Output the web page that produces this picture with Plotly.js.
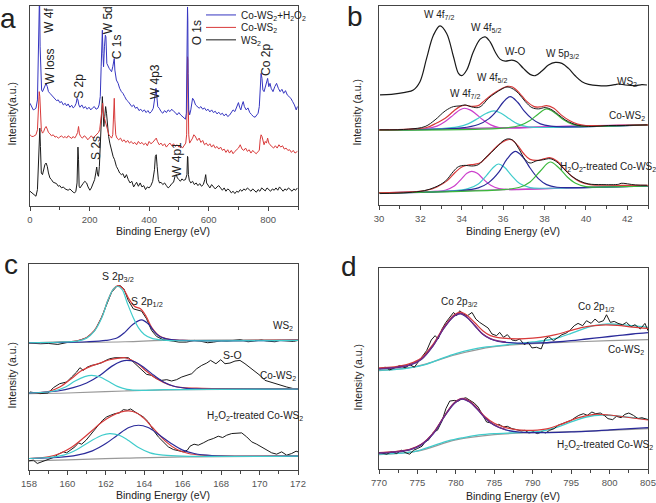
<!DOCTYPE html>
<html>
<head>
<meta charset="utf-8">
<script src="https://cdn.plot.ly/plotly-3.0.1.min.js"></script>
<style>
  html, body { margin: 0; padding: 0; background: #fff; }
  #fig { width: 656px; height: 503px; }
</style>
</head>
<body>
<div id="fig"></div>
<script>
// (a) survey spectra, [binding energy, intensity a.u.]
const surveyWS2 = [[0,45],[6,40],[11,35],[16,32],[20,30],[25,50],[28,120],[31,225],[33,235],[35,180],[38,100],[42,95],[46,110],[50,125],[54,130],[58,120],[62,100],[67,85],[72,80],[78,72],[84,70],[89,68],[95,60],[100,62],[106,55],[112,58],[118,52],[123,50],[128,48],[134,52],[140,46],[145,42],[150,40],[154,45],[158,70],[161,178],[163,140],[165,60],[168,55],[172,62],[178,68],[184,75],[190,70],[195,58],[201,48],[206,55],[212,68],[217,80],[221,100],[224,118],[227,95],[230,90],[233,120],[236,190],[239,260],[241,320],[243,330],[245,290],[248,240],[251,270],[254,300],[257,280],[260,240],[264,210],[268,190],[273,170],[279,150],[284,140],[290,120],[296,110],[301,100],[307,95],[312,98],[318,85],[324,95],[330,80],[336,70],[342,75],[348,58],[353,65],[358,72],[364,60],[370,70],[376,58],[382,62],[388,50],[394,58],[400,55],[406,62],[412,75],[418,110],[421,150],[424,155],[427,120],[431,80],[435,70],[440,72],[446,65],[452,70],[458,62],[464,55],[470,60],[476,68],[482,72],[487,90],[491,95],[495,85],[500,80],[505,75],[510,82],[516,78],[522,80],[527,95],[529,150],[530,148],[532,95],[535,78],[540,70],[546,75],[552,65],[558,70],[564,62],[570,68],[576,60],[582,65],[587,80],[590,95],[593,70],[598,62],[604,55],[610,65],[616,60],[622,52],[628,58],[634,62],[640,55],[646,48],[652,55],[658,45],[664,52],[670,48],[676,40],[682,45],[688,38],[694,45],[700,42],[706,50],[712,45],[718,52],[724,48],[730,55],[736,50],[742,45],[748,52],[754,48],[760,42],[766,50],[772,45],[778,55],[784,50],[790,46],[796,55],[802,50],[808,45],[814,52],[820,48],[826,55],[832,48],[838,58],[844,50],[850,45],[856,52],[862,48],[868,55],[874,50],[880,45],[886,52],[892,48],[898,55]];
const surveyCo = [[0,215],[6,210],[11,210],[16,212],[20,215],[25,230],[28,290],[31,345],[33,330],[35,260],[38,230],[42,220],[46,225],[50,235],[54,240],[58,232],[62,222],[67,218],[72,212],[78,215],[84,208],[89,210],[95,205],[100,208],[106,212],[112,206],[118,210],[123,205],[128,212],[134,208],[140,204],[145,210],[150,205],[155,212],[160,222],[163,240],[166,218],[170,210],[176,205],[182,212],[188,208],[194,200],[200,206],[206,212],[212,205],[218,210],[224,215],[230,222],[234,230],[238,260],[241,300],[244,310],[247,275],[250,265],[253,255],[256,240],[260,225],[265,215],[270,210],[274,205],[278,215],[281,290],[283,325],[285,260],[288,215],[292,205],[298,200],[304,205],[310,195],[316,200],[322,192],[328,198],[334,190],[340,195],[346,188],[352,192],[358,185],[364,195],[370,188],[376,192],[382,185],[388,190],[394,182],[400,195],[406,188],[412,192],[418,198],[424,205],[428,195],[434,185],[440,190],[446,182],[452,188],[458,178],[464,185],[470,190],[476,182],[482,188],[488,180],[494,185],[500,178],[506,182],[512,175],[518,185],[523,190],[526,215],[528,380],[529,450],[530,440],[531,350],[533,215],[536,190],[540,195],[546,205],[550,215],[554,212],[558,205],[562,198],[568,205],[574,192],[580,198],[586,185],[592,190],[598,182],[604,188],[610,178],[616,185],[622,175],[628,180],[634,172],[640,178],[646,168],[652,172],[658,162],[664,170],[670,160],[676,168],[682,158],[688,165],[694,170],[700,175],[706,185],[712,172],[718,168],[724,175],[730,165],[736,170],[742,160],[748,168],[754,162],[760,158],[766,165],[770,168],[773,200],[776,215],[779,210],[782,195],[786,185],[790,195],[794,190],[798,205],[802,190],[806,185],[812,180],[818,175],[824,182],[830,175],[836,185],[842,178],[848,182],[854,172],[860,175],[866,168],[872,170],[878,162],[884,168],[890,160],[898,165]];
const surveyH2O2 = [[0,310],[6,300],[11,290],[16,292],[20,295],[25,320],[28,450],[30,640],[32,640],[34,480],[36,400],[39,350],[42,345],[46,355],[50,365],[54,370],[58,360],[62,345],[67,340],[72,335],[78,330],[84,325],[89,318],[95,320],[100,312],[106,315],[112,305],[118,310],[123,302],[128,308],[134,298],[140,304],[145,296],[150,300],[155,310],[158,325],[161,320],[164,305],[168,298],[174,305],[180,295],[186,300],[192,292],[198,298],[204,290],[210,296],[216,300],[222,292],[228,295],[232,305],[236,330],[239,420],[241,520],[243,530],[245,460],[247,420],[250,480],[253,515],[255,510],[258,430],[262,420],[266,415],[270,410],[274,405],[278,420],[281,440],[283,445],[285,410],[290,380],[296,370],[301,355],[307,345],[312,340],[318,330],[324,320],[330,315],[336,308],[342,300],[348,305],[354,295],[360,298],[366,288],[372,292],[378,285],[384,290],[390,282],[396,288],[402,280],[408,285],[414,295],[418,320],[421,345],[423,355],[426,330],[429,300],[434,295],[440,285],[446,280],[452,288],[458,282],[464,290],[470,285],[476,292],[482,286],[488,282],[494,275],[500,282],[506,275],[512,270],[518,265],[522,262],[525,280],[527,450],[529,600],[530,560],[531,400],[533,290],[536,275],[540,290],[546,325],[550,320],[556,305],[562,300],[568,295],[574,300],[580,292],[586,296],[592,288],[598,292],[604,284],[610,290],[616,282],[622,286],[628,278],[634,283],[640,276],[646,280],[652,272],[658,278],[664,270],[670,274],[676,282],[682,290],[688,285],[694,300],[700,312],[704,298],[708,290],[712,305],[716,315],[720,300],[726,290],[732,296],[738,282],[744,276],[750,270],[756,268],[762,274],[766,280],[770,300],[773,350],[776,400],[779,385],[782,350],[786,345],[790,360],[794,375],[798,385],[802,360],[806,370],[810,355],[816,345],[822,360],[828,370],[834,355],[840,345],[846,352],[852,340],[858,348],[864,335],[870,330],[876,325],[882,315],[888,305],[894,290],[898,300]];

// (b) W 4f region
const w4fWS2 = [[30.05,332],[30.6,334],[31.26,340],[31.66,347],[31.98,372],[32.3,442],[32.63,512],[32.95,540],[33.27,517],[33.6,447],[33.84,397],[34.0,390],[34.24,407],[34.56,462],[34.89,500],[35.13,507],[35.37,492],[35.61,462],[35.85,440],[36.1,434],[36.42,437],[36.66,432],[36.98,412],[37.3,394],[37.55,390],[37.87,404],[38.19,422],[38.52,430],[38.84,427],[39.16,412],[39.48,390],[39.81,372],[40.13,364],[40.61,360],[41.1,360],[41.4,363],[41.58,365],[41.9,362],[42.39,360],[42.7,363],[42.95,362]];
const w4fCoRaw = [[30.05,227],[31.42,229],[32.23,237],[32.71,257],[33.2,284],[33.6,297],[33.92,299],[34.16,302],[34.48,296],[34.8,294],[34.97,300],[35.29,322],[35.61,337],[35.94,350],[36.18,356],[36.42,352],[36.74,337],[37.07,312],[37.39,294],[37.71,290],[38.03,294],[38.36,287],[38.68,272],[39.0,257],[39.32,247],[39.65,240],[40.29,237],[41.1,240],[41.9,240],[42.95,242]];
const w4fCoFit = [[30,227],[31.5,229],[32.3,234],[32.7,245],[33.2,262],[33.6,283],[33.9,297],[34.15,301],[34.45,298],[34.8,300],[35.1,315],[35.5,335],[35.9,350],[36.2,358],[36.45,356],[36.8,337],[37.1,315],[37.5,297],[37.8,296],[38.1,300],[38.45,292],[38.8,272],[39.2,255],[39.6,244],[40,240],[41,240],[43,242]];
const w4fCoP1 = [[30,226],[31.5,228],[32.3,231],[32.8,238],[33.2,252],[33.6,272],[33.9,287],[34.13,292],[34.4,287],[34.7,274],[35.0,258],[35.4,242],[35.8,234],[36.5,232],[38,236],[43,242]];
const w4fCoP2 = [[30,226],[33,231],[33.8,236],[34.3,245],[34.8,262],[35.2,277],[35.55,284],[35.9,277],[36.3,260],[36.7,245],[37.2,236],[38,234],[43,242]];
const w4fCoP3 = [[30,226],[34,233],[34.8,243],[35.3,260],[35.7,285],[36.0,310],[36.34,327],[36.7,310],[37.0,285],[37.4,260],[37.8,245],[38.3,238],[39,236],[43,242]];
const w4fCoP4 = [[30,226],[36,232],[36.8,240],[37.3,255],[37.7,275],[38.1,290],[38.5,278],[38.9,258],[39.3,245],[39.8,238],[40.5,238],[43,242]];
const w4fCoBase = [[30,226],[43,242]];
const w4fHRaw = [[30.05,35],[31.4,38],[32.2,44],[32.7,54],[33.2,72],[33.6,102],[33.84,116],[34.16,120],[34.48,118],[34.8,122],[35.13,142],[35.45,160],[35.77,180],[36.0,194],[36.26,200],[36.5,194],[36.74,172],[37.07,137],[37.3,127],[37.63,134],[37.95,137],[38.27,140],[38.6,130],[38.92,110],[39.32,87],[39.73,72],[40.13,64],[40.77,62],[41.58,63],[41.7,66],[42.39,61],[42.95,60]];
const w4fHFit = [[30,37],[31.5,40],[32.3,45],[32.8,55],[33.3,74],[33.7,100],[34.0,115],[34.3,121],[34.6,123],[34.9,128],[35.2,145],[35.5,165],[35.85,185],[36.15,196],[36.4,197],[36.7,180],[37.0,155],[37.3,138],[37.7,135],[38.0,140],[38.25,143],[38.6,133],[38.95,110],[39.3,88],[39.7,71],[40.2,62],[41,60],[43,60]];
const w4fHP1 = [[30,37],[32.5,41],[33.2,45],[33.6,56],[34.0,80],[34.25,96],[34.48,102],[34.75,96],[35.05,78],[35.4,60],[35.8,50],[36.5,47],[38,50],[43,58]];
const w4fHP2 = [[30,37],[33.5,43],[34.3,50],[34.8,64],[35.2,90],[35.5,112],[35.77,124],[36.05,115],[36.4,90],[36.8,65],[37.3,53],[38,51],[43,58]];
const w4fHP3 = [[30,37],[34,44],[34.8,52],[35.3,68],[35.8,100],[36.2,140],[36.58,162],[36.95,145],[37.3,112],[37.7,80],[38.1,62],[38.6,54],[39.5,53],[43,58]];
const w4fHP4 = [[30,37],[36,47],[36.8,54],[37.3,70],[37.8,103],[38.27,130],[38.7,112],[39.1,85],[39.5,66],[40,56],[41,55],[43,58]];
const w4fHBase = [[30,37],[43,58]];

// (c) S 2p region
const s2pWS2Raw = [[158,382],[158.6,380],[159,381],[159.5,378],[160,384],[160.5,388],[161,398],[161.43,420],[161.78,460],[162.04,500],[162.3,535],[162.56,552],[162.74,555],[162.94,545],[163.17,510],[163.43,485],[163.69,480],[163.86,478],[164.12,455],[164.38,420],[164.64,402],[164.99,392],[165.5,388],[165.8,385],[166.2,385],[166.6,390],[166.9,388],[167.3,383],[167.6,385],[168,389],[168.3,388],[168.7,391],[169.0,392],[169.4,386],[169.7,388],[170.1,391],[170.4,388],[170.8,386],[171.06,390],[171.4,388],[171.76,387],[172,390]];
const s2pWS2Fit = [[158,383],[159.5,385],[160.5,389],[161,399],[161.4,420],[161.8,462],[162.1,510],[162.4,545],[162.62,555],[162.9,546],[163.2,515],[163.5,492],[163.8,485],[164.1,462],[164.4,428],[164.8,403],[165.3,393],[166,390],[172,392]];
const s2pWS2P1 = [[158,383],[159.5,385],[160.5,388],[161.0,397],[161.4,418],[161.8,460],[162.1,510],[162.4,545],[162.6,553],[162.85,543],[163.1,505],[163.4,462],[163.7,428],[164.0,408],[164.4,396],[165,391],[166,389],[172,390]];
const s2pWS2P2 = [[158,383],[161,386],[162,390],[162.6,398],[163.0,415],[163.4,438],[163.86,452],[164.2,440],[164.5,418],[164.8,402],[165.3,393],[166,390],[172,390]];
const s2pWS2Base = [[158,383],[163,386],[165,390],[172,392]];
const s2pCoRaw = [[158.05,235],[158.57,230],[159,232],[159.27,248],[159.6,260],[159.96,265],[160.22,280],[160.48,295],[160.65,308],[160.83,300],[161.04,310],[161.26,315],[161.52,318],[161.78,323],[162.0,330],[162.2,335],[162.48,338],[162.74,338],[163.0,340],[163.17,338],[163.34,330],[163.6,315],[163.86,300],[164.12,288],[164.38,285],[164.64,275],[164.9,270],[165.17,272],[165.42,268],[165.68,272],[165.95,280],[166.2,285],[166.47,290],[166.73,305],[166.99,315],[167.25,322],[167.45,330],[167.73,320],[167.98,332],[168.2,320],[168.46,322],[168.72,328],[168.98,330],[169.24,320],[169.5,308],[169.76,295],[170.02,285],[170.28,270],[170.54,265],[170.8,260],[171.06,257],[171.41,250],[171.76,245],[172,244]];
const s2pCoFit = [[158,232],[159,236],[159.6,250],[160.2,275],[160.7,298],[161.2,312],[161.7,322],[162.2,332],[162.7,337],[163.0,338],[163.3,332],[163.7,318],[164.1,298],[164.5,280],[165,264],[165.5,253],[166,248],[167,246],[168,245],[172,245]];
const s2pCoP1 = [[158,232],[159.3,238],[159.9,250],[160.4,268],[160.9,281],[161.26,285],[161.7,280],[162.1,268],[162.6,252],[163.1,243],[163.8,240],[165,242],[172,244]];
const s2pCoP2 = [[158,232],[159.5,238],[160.3,248],[161,262],[161.7,285],[162.3,312],[162.8,327],[163.1,330],[163.5,326],[164,308],[164.5,285],[165,265],[165.5,253],[166.2,246],[167,244],[172,244]];
const s2pCoBase = [[158,230],[160,232],[163,238],[166,242],[172,244]];
const s2pHRaw = [[158,28],[158.23,30],[158.43,20],[158.66,25],[159,32],[159.27,38],[159.53,48],[159.79,55],[159.96,52],[160.17,62],[160.39,70],[160.57,82],[160.74,78],[160.97,90],[161.17,105],[161.38,120],[161.61,135],[161.83,150],[162.04,160],[162.25,165],[162.48,170],[162.7,172],[162.91,182],[163.12,180],[163.29,184],[163.52,175],[163.74,168],[163.95,160],[164.21,145],[164.47,120],[164.73,100],[164.99,85],[165.25,70],[165.51,62],[165.77,58],[166.03,55],[166.24,60],[166.38,72],[166.59,78],[166.81,75],[167.07,82],[167.33,90],[167.59,95],[167.85,102],[168.08,98],[168.29,105],[168.55,110],[168.81,112],[169.07,112],[169.33,100],[169.59,85],[169.85,78],[170.11,70],[170.37,62],[170.63,52],[170.89,48],[171.15,55],[171.41,45],[171.67,50],[171.9,57],[172,55]];
const s2pHFit = [[158,35],[159,40],[159.6,50],[160.2,68],[160.8,95],[161.3,120],[161.8,145],[162.3,163],[162.8,175],[163.2,178],[163.6,172],[164.0,155],[164.4,130],[164.8,105],[165.2,82],[165.7,62],[166.3,50],[167,45],[168,43],[172,42]];
const s2pHP1 = [[158,35],[159,38],[159.8,45],[160.5,62],[161.2,87],[161.8,105],[162.2,110],[162.7,105],[163.2,88],[163.7,68],[164.3,52],[165,45],[166,42],[172,42]];
const s2pHP2 = [[158,35],[159.5,38],[160.5,45],[161.3,58],[162,80],[162.6,105],[163.2,128],[163.7,135],[164.2,128],[164.8,105],[165.4,80],[166,60],[166.6,50],[167.5,44],[172,42]];
const s2pHBase = [[158,28],[160,31],[163,36],[166,40],[172,42]];

// (d) Co 2p region
const co2pCoRaw = [[770.1,302],[770.8,307],[771.4,299],[772.1,307],[772.7,312],[773.4,305],[774.0,315],[774.6,307],[775.1,322],[775.6,337],[776.2,357],[776.8,389],[777.3,402],[777.7,392],[778.2,422],[778.7,442],[779.2,457],[779.7,472],[780.1,462],[780.5,477],[781.0,467],[781.5,462],[782.1,472],[782.6,452],[783.1,442],[783.7,432],[784.2,425],[784.7,407],[785.3,402],[785.7,412],[786.2,397],[786.7,405],[787.3,389],[787.8,387],[788.3,392],[788.9,375],[789.4,382],[789.9,365],[790.5,367],[791.1,362],[791.6,392],[792.1,399],[792.7,387],[793.2,395],[793.8,405],[794.3,409],[794.8,417],[795.4,432],[795.9,439],[796.5,432],[797.0,447],[797.6,439],[798.1,452],[798.6,442],[799.2,447],[799.6,465],[800.1,442],[800.6,445],[801.1,439],[801.7,435],[802.2,442],[802.8,429],[803.3,435],[804.0,422],[804.6,439],[805,417]];
const co2pCoFit = [[770,305],[772,308],[774,318],[775.5,335],[777,375],[778.5,430],[779.8,465],[780.6,473],[781.5,463],[782.5,440],[783.5,417],[784.5,402],[785.5,396],[787,393],[789,393],[791,397],[793,405],[795,418],[797,429],[799,434],[801,433],[803,428],[805,424]];
const co2pCoBg = [[770,302],[772,305],[774,313],[775.5,330],[777,370],[778.5,426],[779.8,461],[780.6,468],[781.5,456],[782.5,431],[783.5,406],[784.5,392],[785.5,385],[787,381],[789,379],[791,380],[793,383],[795,387],[797,392],[799,397],[801,402],[803,407],[805,411]];
const co2pCoPeak = [[770,303],[772,306],[774,314],[775.5,331],[777,371],[778.5,427],[779.8,462],[780.6,469],[781.5,457],[782.5,432],[783.5,407],[784.5,393],[785.5,386],[786.5,383]];
const co2pCoSat = [[770,298],[772,300],[774,305],[776,315],[778,332],[780,348],[782,360],[784,368],[786,373],[788,378],[790,383],[792,389],[793.5,397],[795,409],[796.5,422],[798,432],[799.5,437],[801,436],[803,432],[805,427]];
const co2pCoBase = [[770,297],[775,310],[780,345],[785,369],[790,378],[795,383],[800,387],[805,390]];
const co2pHRaw = [[770.3,49],[771,45],[771.6,52],[772.3,47],[772.9,57],[773.5,49],[774,45],[774.5,57],[775,62],[775.6,69],[776,82],[776.5,89],[777.1,112],[777.6,117],[778.2,145],[778.7,182],[779.2,205],[779.8,207],[780.3,205],[780.8,212],[781.3,215],[781.8,207],[782.4,199],[782.9,187],[783.4,167],[784,142],[784.6,139],[785.1,132],[785.6,135],[786.2,127],[786.7,129],[787.3,122],[787.9,119],[788.5,115],[789,117],[789.5,109],[790.1,112],[790.6,107],[791.2,112],[791.7,109],[792.2,117],[792.8,122],[793.3,132],[793.9,137],[794.4,142],[795,147],[795.5,155],[796,162],[796.6,167],[797.1,162],[797.7,172],[798.2,167],[798.8,169],[799.3,162],[799.8,152],[800.4,149],[800.9,159],[801.5,155],[802,165],[802.5,169],[803.1,162],[803.7,152],[804.2,155],[805,149]];
const co2pHFit = [[770,50],[772,53],[774,60],[775.5,75],[777,108],[778.5,160],[779.8,200],[780.8,213],[781.8,205],[782.8,183],[783.8,158],[785,138],[786.5,125],[788,118],[790,117],[792,122],[794,138],[796,155],[798,165],[800,163],[802,157],[805,148]];
const co2pHBg = [[770,48],[772,51],[774,58],[775.5,73],[777,105],[778.5,158],[779.8,198],[780.8,211],[781.8,202],[782.8,180],[783.8,154],[785,132],[786.5,118],[788,112],[790,110],[792,110],[795,112],[800,118],[805,125]];
const co2pHPeak = [[770,49],[772,52],[774,59],[775.5,74],[777,106],[778.5,159],[779.8,199],[780.8,212],[781.8,203],[782.8,181],[783.8,155],[785,133],[786.5,119]];
const co2pHSat = [[770,45],[773,48],[775,55],[777,70],[779,85],[781,95],[783,103],[785,107],[788,110],[791,114],[793,125],[795,142],[797,157],[799,163],[801,160],[803,155],[805,150]];
const co2pHBase = [[770,44],[775,54],[780,88],[785,104],[790,110],[795,113],[800,117],[805,122]];

const FONT = 'Liberation Sans, Arial, sans-serif';
const C = {
  black: '#1a1a1a', red: '#d83a3a', blue: '#3535c0', magenta: '#cc40cc',
  cyan: '#40cccc', navy: '#2a2a9a', green: '#3cb83c', purple: '#a040b0',
  plum: '#7a2a80', gray: '#999999'
};

function line(pts, color, xa, ya, width, smooth, extra) {
  return Object.assign({
    type: 'scatter', mode: 'lines',
    x: pts.map(p => p[0]), y: pts.map(p => p[1]),
    xaxis: xa, yaxis: ya,
    line: {color: color, width: width || 1, shape: smooth ? 'spline' : 'linear'},
    showlegend: false, hoverinfo: 'skip'
  }, extra || {});
}

const traces = [
  line(surveyWS2, C.black, 'x', 'y', 1, false, {name: 'WS<sub>2</sub>', showlegend: true, legend: 'legend3'}),
  line(surveyCo, C.red, 'x', 'y', 1, false, {name: 'Co-WS<sub>2</sub>', showlegend: true, legend: 'legend2'}),
  line(surveyH2O2, C.blue, 'x', 'y', 1, false, {name: 'Co-WS<sub>2</sub>+H<sub>2</sub>O<sub>2</sub>', showlegend: true, legend: 'legend'}),

  line(w4fWS2, C.black, 'x2', 'y2', 1.2, true),
  line(w4fCoBase, C.purple, 'x2', 'y2', 1.2),
  line(w4fCoP1, C.magenta, 'x2', 'y2', 1.2, true),
  line(w4fCoP2, C.cyan, 'x2', 'y2', 1.2, true),
  line(w4fCoP3, C.navy, 'x2', 'y2', 1.2, true),
  line(w4fCoP4, C.green, 'x2', 'y2', 1.2, true),
  line(w4fCoFit, C.red, 'x2', 'y2', 1.2, true),
  line(w4fCoRaw, C.black, 'x2', 'y2', 1, true),
  line(w4fHBase, C.purple, 'x2', 'y2', 1.2),
  line(w4fHP1, C.magenta, 'x2', 'y2', 1.2, true),
  line(w4fHP2, C.cyan, 'x2', 'y2', 1.2, true),
  line(w4fHP3, C.navy, 'x2', 'y2', 1.2, true),
  line(w4fHP4, C.green, 'x2', 'y2', 1.2, true),
  line(w4fHFit, C.red, 'x2', 'y2', 1.2, true),
  line(w4fHRaw, C.black, 'x2', 'y2', 1, true),

  line(s2pWS2Base, C.gray, 'x3', 'y3', 1.2, true),
  line(s2pWS2Raw, C.black, 'x3', 'y3', 1, false),
  line(s2pWS2Fit, C.red, 'x3', 'y3', 1.2, true),
  line(s2pWS2P2, C.navy, 'x3', 'y3', 1.2, true),
  line(s2pWS2P1, C.cyan, 'x3', 'y3', 1.2, true),
  line(s2pCoBase, C.gray, 'x3', 'y3', 1.2, true),
  line(s2pCoRaw, C.black, 'x3', 'y3', 1, false),
  line(s2pCoFit, C.red, 'x3', 'y3', 1.2, true),
  line(s2pCoP2, C.navy, 'x3', 'y3', 1.2, true),
  line(s2pCoP1, C.cyan, 'x3', 'y3', 1.2, true),
  line(s2pHBase, C.gray, 'x3', 'y3', 1.2, true),
  line(s2pHRaw, C.black, 'x3', 'y3', 1, false),
  line(s2pHFit, C.red, 'x3', 'y3', 1.2, true),
  line(s2pHP2, C.navy, 'x3', 'y3', 1.2, true),
  line(s2pHP1, C.cyan, 'x3', 'y3', 1.2, true),

  line(co2pCoBase, C.gray, 'x4', 'y4', 1.2, true),
  line(co2pCoSat, C.cyan, 'x4', 'y4', 1.3, true),
  line(co2pCoRaw, C.black, 'x4', 'y4', 1, false),
  line(co2pCoFit, C.red, 'x4', 'y4', 1.2, true),
  line(co2pCoBg, C.navy, 'x4', 'y4', 1.3, true),
  line(co2pCoPeak, C.plum, 'x4', 'y4', 1.3, true),
  line(co2pHBase, C.gray, 'x4', 'y4', 1.2, true),
  line(co2pHSat, C.cyan, 'x4', 'y4', 1.3, true),
  line(co2pHRaw, C.black, 'x4', 'y4', 1, false),
  line(co2pHFit, C.red, 'x4', 'y4', 1.2, true),
  line(co2pHBg, C.navy, 'x4', 'y4', 1.3, true),
  line(co2pHPeak, C.plum, 'x4', 'y4', 1.3, true)
];

function xax(domain, range, tick0, dtick, minor, anchor) {
  return {
    domain: domain, range: range, anchor: anchor,
    tick0: tick0, dtick: dtick, ticks: 'outside', ticklen: 4, tickwidth: 1, tickcolor: '#444',
    minor: {dtick: minor, tick0: tick0, ticks: 'outside', ticklen: 2.5, tickcolor: '#444', showgrid: false},
    showline: true, linecolor: '#444', linewidth: 1, mirror: true,
    showgrid: false, zeroline: false,
    tickfont: {family: FONT, size: 9.5, color: '#555'}, fixedrange: true
  };
}
function yax(domain, range, anchor) {
  return {
    domain: domain, range: range, anchor: anchor,
    showticklabels: false, ticks: '', showline: true, linecolor: '#444', linewidth: 1, mirror: true,
    showgrid: false, zeroline: false, fixedrange: true
  };
}
function leg(rowY) {
  return {
    x: 201 / 656, y: 1 - rowY / 503, xanchor: 'left', yanchor: 'middle',
    bgcolor: 'rgba(0,0,0,0)', borderwidth: 0, itemwidth: 30, tracegroupgap: 0,
    font: {family: FONT, size: 10, color: '#222'}
  };
}

function lab(text, x, y, xref, yref, size, extra) {
  return Object.assign({
    text: text, x: x, y: y, xref: xref, yref: yref, showarrow: false,
    xanchor: 'center', yanchor: 'middle',
    font: {family: FONT, size: size, color: '#222'}
  }, extra || {});
}
const rot = {textangle: -90};
const xTitle = 'Binding Energy (eV)';

const annotations = [
  lab('a', 8 / 656, 1 - 17 / 503, 'paper', 'paper', 28),
  lab('b', 355 / 656, 1 - 15 / 503, 'paper', 'paper', 28),
  lab('c', 11 / 656, 1 - 264 / 503, 'paper', 'paper', 28),
  lab('d', 349 / 656, 1 - 266 / 503, 'paper', 'paper', 28),

  lab(xTitle, 163 / 656, 1 - 230 / 503, 'paper', 'paper', 10.5),
  lab(xTitle, 513 / 656, 1 - 230 / 503, 'paper', 'paper', 10.5),
  lab(xTitle, 163 / 656, 1 - 495 / 503, 'paper', 'paper', 10.5),
  lab(xTitle, 513 / 656, 1 - 496 / 503, 'paper', 'paper', 10.5),
  lab('Intensity(a.u.)', 12 / 656, 1 - 112 / 503, 'paper', 'paper', 10.5, rot),
  lab('Intensity (a.u.)', 357 / 656, 1 - 111 / 503, 'paper', 'paper', 10.5, rot),
  lab('Intensity (a.u.)', 12 / 656, 1 - 375 / 503, 'paper', 'paper', 10.5, rot),
  lab('Intensity (a.u.)', 358 / 656, 1 - 377 / 503, 'paper', 'paper', 10.5, rot),

  lab('W 4f', 66, 560, 'x', 'y', 12, rot),
  lab('W loss', 66, 420, 'x', 'y', 12, rot),
  lab('S 2p', 165, 360, 'x', 'y', 12, rot),
  lab('S 2s', 221, 175, 'x', 'y', 12, rot),
  lab('W 5d', 262, 560, 'x', 'y', 12, rot),
  lab('C 1s', 290, 480, 'x', 'y', 12, rot),
  lab('W 4p3', 418, 375, 'x', 'y', 12, rot),
  lab('W 4p1', 491, 140, 'x', 'y', 12, rot),
  lab('O 1s', 560, 523, 'x', 'y', 12, rot),
  lab('Co 2p', 792, 440, 'x', 'y', 12, rot),

  lab('W 4f<sub>7/2</sub>', 32.9, 572, 'x2', 'y2', 10),
  lab('W 4f<sub>5/2</sub>', 35.15, 534, 'x2', 'y2', 10),
  lab('W-O', 36.6, 462, 'x2', 'y2', 10),
  lab('W 5p<sub>3/2</sub>', 38.85, 454, 'x2', 'y2', 10),
  lab('WS<sub>2</sub>', 41.98, 372, 'x2', 'y2', 10),
  lab('W 4f<sub>5/2</sub>', 35.45, 382, 'x2', 'y2', 10),
  lab('W 4f<sub>7/2</sub>', 34.16, 334, 'x2', 'y2', 10),
  lab('Co-WS<sub>2</sub>', 41.98, 270, 'x2', 'y2', 10),
  lab('H<sub>2</sub>O<sub>2</sub>-treated Co-WS<sub>2</sub>', 41.05, 115, 'x2', 'y2', 10),

  lab('S 2p<sub>3/2</sub>', 162.65, 580, 'x3', 'y3', 10.5),
  lab('S 2p<sub>1/2</sub>', 164.15, 505, 'x3', 'y3', 10.5),
  lab('WS<sub>2</sub>', 171.2, 432, 'x3', 'y3', 10),
  lab('S-O', 168.6, 345, 'x3', 'y3', 10.5),
  lab('Co-WS<sub>2</sub>', 170.98, 282, 'x3', 'y3', 10),
  lab('H<sub>2</sub>O<sub>2</sub>-treated Co-WS<sub>2</sub>', 169.76, 163, 'x3', 'y3', 10),

  lab('Co 2p<sub>3/2</sub>', 780.5, 502, 'x4', 'y4', 10),
  lab('Co 2p<sub>1/2</sub>', 798.3, 489, 'x4', 'y4', 10),
  lab('Co-WS<sub>2</sub>', 802.2, 360, 'x4', 'y4', 10),
  lab('H<sub>2</sub>O<sub>2</sub>-treated Co-WS<sub>2</sub>', 799.4, 72, 'x4', 'y4', 10)
];

const layout = {
  width: 656, height: 503,
  margin: {l: 0, r: 0, t: 0, b: 0},
  paper_bgcolor: '#ffffff', plot_bgcolor: '#ffffff',
  font: {family: FONT, size: 10, color: '#222'},
  showlegend: true,
  legend: leg(13),
  legend2: leg(25.5),
  legend3: leg(38),
  xaxis: xax([30 / 656, 298 / 656], [0, 900], 0, 200, 100, 'y'),
  yaxis: yax([1 - 205 / 503, 1 - 4 / 503], [0, 603], 'x'),
  xaxis2: xax([379 / 656, 648 / 656], [30, 43], 30, 2, 1, 'y2'),
  yaxis2: yax([1 - 204 / 503, 1 - 4 / 503], [0, 600], 'x2'),
  xaxis3: xax([29 / 656, 298 / 656], [158, 172], 158, 2, 1, 'y3'),
  yaxis3: yax([1 - 470 / 503, 1 - 263 / 503], [0, 620], 'x3'),
  xaxis4: xax([379 / 656, 648 / 656], [770, 805], 770, 5, 2.5, 'y4'),
  yaxis4: yax([1 - 469 / 503, 1 - 267 / 503], [0, 606], 'x4'),
  annotations: annotations
};

Plotly.newPlot('fig', traces, layout, {staticPlot: true, displayModeBar: false});
</script>
</body>
</html>
